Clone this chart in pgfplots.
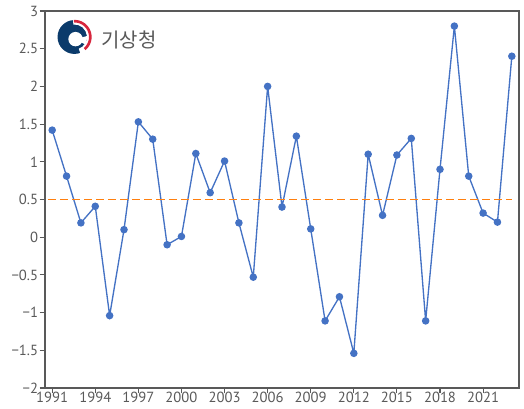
\documentclass[border=0pt]{standalone}
\usepackage{pgfplots}
\pgfplotsset{compat=1.18}
\usepackage{fontspec}
\setmainfont{PT Sans}
\newfontfamily\kr{Noto Sans CJK KR}
\definecolor{lineblue}{HTML}{4472C4}
\definecolor{myorange}{HTML}{FF7F0E}
\definecolor{axgray}{HTML}{595959}
\definecolor{navy}{HTML}{0B3B6B}
\definecolor{krred}{HTML}{D7263D}
\begin{document}
\begin{tikzpicture}
\useasboundingbox (-33.75pt,-15.75pt) rectangle (359.25pt,291pt);
\begin{axis}[
  at={(0,0)}, anchor=south west,
  scale only axis,
  width=355.5pt, height=282.75pt,
  xmin=1990.5, xmax=2023.5,
  ymin=-2, ymax=3,
  xtick={1991,1994,1997,2000,2003,2006,2009,2012,2015,2018,2021},
  xticklabels={1991,1994,1997,2000,2003,2006,2009,2012,2015,2018,2021},
  ytick={-2,-1.5,-1,-0.5,0,0.5,1,1.5,2,2.5,3},
  yticklabels={−2,−1.5,−1,−0.5,0,0.5,1,1.5,2,2.5,3},
  tick align=outside,
  tick pos=left,
  major tick length=4pt,
  axis line style={axgray, line width=0.8pt},
  tick style={axgray, line width=0.8pt},
  ticklabel style={font=\fontsize{11}{12}\selectfont, text=axgray, inner sep=1pt},
  xticklabel style={yshift=2.5pt},
  clip=false,
]
\addplot[lineblue, line width=1pt, mark=*, mark size=2.3pt, mark options={fill=lineblue, draw=lineblue}] coordinates {
(1991,1.42) (1992,0.81) (1993,0.19) (1994,0.41) (1995,-1.04) (1996,0.10)
(1997,1.53) (1998,1.30) (1999,-0.10) (2000,0.01) (2001,1.11) (2002,0.59)
(2003,1.01) (2004,0.19) (2005,-0.53) (2006,2.00) (2007,0.40) (2008,1.34)
(2009,0.11) (2010,-1.11) (2011,-0.79) (2012,-1.54) (2013,1.10) (2014,0.29)
(2015,1.09) (2016,1.31) (2017,-1.11) (2018,0.90) (2019,2.80) (2020,0.81)
(2021,0.32) (2022,0.20) (2023,2.40)
};
\addplot[myorange, line width=1.3pt, mark=none, unbounded coords=jump] coordinates {
(1990.70,0.5) (1991.26,0.5) (1991.40,nan)
(1991.54,0.5) (1992.10,0.5) (1992.24,nan)
(1992.38,0.5) (1992.94,0.5) (1993.08,nan)
(1993.22,0.5) (1993.78,0.5) (1993.92,nan)
(1994.06,0.5) (1994.62,0.5) (1994.76,nan)
(1994.90,0.5) (1995.46,0.5) (1995.60,nan)
(1995.74,0.5) (1996.30,0.5) (1996.44,nan)
(1996.58,0.5) (1997.14,0.5) (1997.28,nan)
(1997.42,0.5) (1997.98,0.5) (1998.12,nan)
(1998.26,0.5) (1998.82,0.5) (1998.96,nan)
(1999.10,0.5) (1999.66,0.5) (1999.80,nan)
(1999.94,0.5) (2000.50,0.5) (2000.64,nan)
(2000.78,0.5) (2001.34,0.5) (2001.48,nan)
(2001.62,0.5) (2002.18,0.5) (2002.32,nan)
(2002.46,0.5) (2003.02,0.5) (2003.16,nan)
(2003.30,0.5) (2003.86,0.5) (2004.00,nan)
(2004.14,0.5) (2004.70,0.5) (2004.84,nan)
(2004.98,0.5) (2005.54,0.5) (2005.68,nan)
(2005.82,0.5) (2006.38,0.5) (2006.52,nan)
(2006.66,0.5) (2007.22,0.5) (2007.36,nan)
(2007.50,0.5) (2008.06,0.5) (2008.20,nan)
(2008.34,0.5) (2008.90,0.5) (2009.04,nan)
(2009.18,0.5) (2009.74,0.5) (2009.88,nan)
(2010.02,0.5) (2010.58,0.5) (2010.72,nan)
(2010.86,0.5) (2011.42,0.5) (2011.56,nan)
(2011.70,0.5) (2012.26,0.5) (2012.40,nan)
(2012.54,0.5) (2013.10,0.5) (2013.24,nan)
(2013.38,0.5) (2013.94,0.5) (2014.08,nan)
(2014.22,0.5) (2014.78,0.5) (2014.92,nan)
(2015.06,0.5) (2015.62,0.5) (2015.76,nan)
(2015.90,0.5) (2016.46,0.5) (2016.60,nan)
(2016.74,0.5) (2017.30,0.5) (2017.44,nan)
(2017.58,0.5) (2018.14,0.5) (2018.28,nan)
(2018.42,0.5) (2018.98,0.5) (2019.12,nan)
(2019.26,0.5) (2019.82,0.5) (2019.96,nan)
(2020.10,0.5) (2020.66,0.5) (2020.80,nan)
(2020.94,0.5) (2021.50,0.5) (2021.64,nan)
(2021.78,0.5) (2022.34,0.5) (2022.48,nan)
(2022.62,0.5) (2023.00,0.5)
};
\end{axis}
% logo
\begin{scope}[shift={(22.1pt,263.25pt)}]
  \fill[navy] (0,0) circle (12.7pt);
  \fill[white] (-70:13.5pt) arc(-70:95:13.5pt) -- (95:9.4pt) arc(95:-70:9.4pt) -- cycle;
  \fill[krred] (-50:12.9pt) arc(-50:92:12.9pt) -- (92:10.9pt) arc(92:-50:10.9pt) -- cycle;
  \fill[white] (0.8pt,-1.6pt) circle (5.4pt);
  \fill[white] (0.8pt,-1.6pt) -- (-35:10pt) -- (5:10pt) -- cycle;
\end{scope}
\node[anchor=west, text=axgray, inner sep=0pt] at (42pt,261pt) {\kr\fontsize{15}{18}\selectfont 기상청};
\end{tikzpicture}
\end{document}
